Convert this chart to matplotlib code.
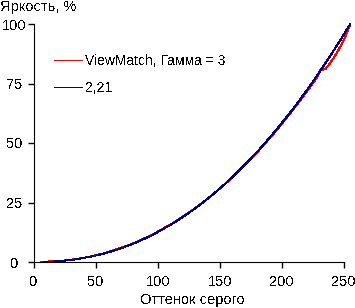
import matplotlib
matplotlib.use("Agg")
import matplotlib.pyplot as plt

plt.rcParams['font.family'] = ['Liberation Sans Narrow', 'Liberation Sans', 'DejaVu Sans']
plt.rcParams['text.antialiased'] = False

# gray levels and measured brightness, %
gray = [8, 16, 24, 32, 40, 48, 56, 64, 72, 80, 88, 96, 104, 112, 120, 128,
        136, 144, 152, 160, 168, 176, 184, 192, 200, 208, 216, 224, 232, 240, 248, 255]
ref_221 = [0.05, 0.22, 0.54, 1.0, 1.7, 2.5, 3.5, 4.7, 6.1, 7.7, 9.5, 11.5, 13.8, 16.2, 18.9, 21.8,
           24.9, 28.3, 31.9, 35.7, 39.8, 44.1, 48.6, 53.4, 58.5, 63.7, 69.3, 75.1, 81.2, 87.5, 94.0, 100.0]

gray_vm = [6, 16, 24, 32, 40, 48, 56, 64, 72, 80, 88, 96, 104, 112, 120, 128,
           136, 144, 152, 160, 168, 176, 184, 192, 200, 208, 216, 224, 228, 231, 235,
           238, 242, 246, 250, 253, 255]
viewmatch = [0.1, 0.3, 0.6, 1.1, 1.7, 2.6, 3.6, 4.9, 6.3, 7.8, 9.7, 11.6, 14.0, 16.3, 19.1, 21.9,
             25.0, 28.2, 31.8, 35.5, 39.6, 43.8, 48.4, 53.1, 58.1, 63.4, 68.8, 74.4, 77.5, 80.6, 81.0,
             83.0, 86.0, 89.5, 93.5, 97.0, 100.0]

fig = plt.figure(figsize=(3.55, 3.08), dpi=100)
ax = fig.add_axes([34 / 355, 46 / 308, 310 / 355, 238 / 308])

ax.plot(gray_vm, viewmatch, color='#ff0000', lw=0.72, clip_on=False, antialiased=False,
        label='ViewMatch, Гамма = 3')
ax.plot(gray, ref_221, color='#000080', lw=0.72, clip_on=False, antialiased=False,
        label='2,21')

ax.set_xlim(0, 250)
ax.set_ylim(0, 100)
ax.set_xticks([0, 50, 100, 150, 200, 250])
ax.set_yticks([0, 25, 50, 75, 100])
ax.spines['top'].set_visible(False)
ax.spines['right'].set_visible(False)
ax.tick_params(direction='out', length=4, width=1, labelsize=10.5)
ax.tick_params(axis='x', pad=5.5)
ax.tick_params(axis='y', pad=10)
for lab in ax.get_yticklabels():
    lab.set_horizontalalignment('center')

fig.text(0, 1, 'Яркость, %', ha='left', va='top', fontsize=10.5)
fig.text(192 / 355, 8 / 308, 'Оттенок серого', ha='center', va='center', fontsize=10.5)

ax.legend(loc='upper left', bbox_to_anchor=(54 / 355, 1 - 54 / 308), bbox_transform=fig.transFigure,
          frameon=False, fontsize=10, handlelength=2.0, handletextpad=0.25, labelspacing=0.9,
          borderpad=0, borderaxespad=0)

fig.savefig('out.png', dpi=100)
